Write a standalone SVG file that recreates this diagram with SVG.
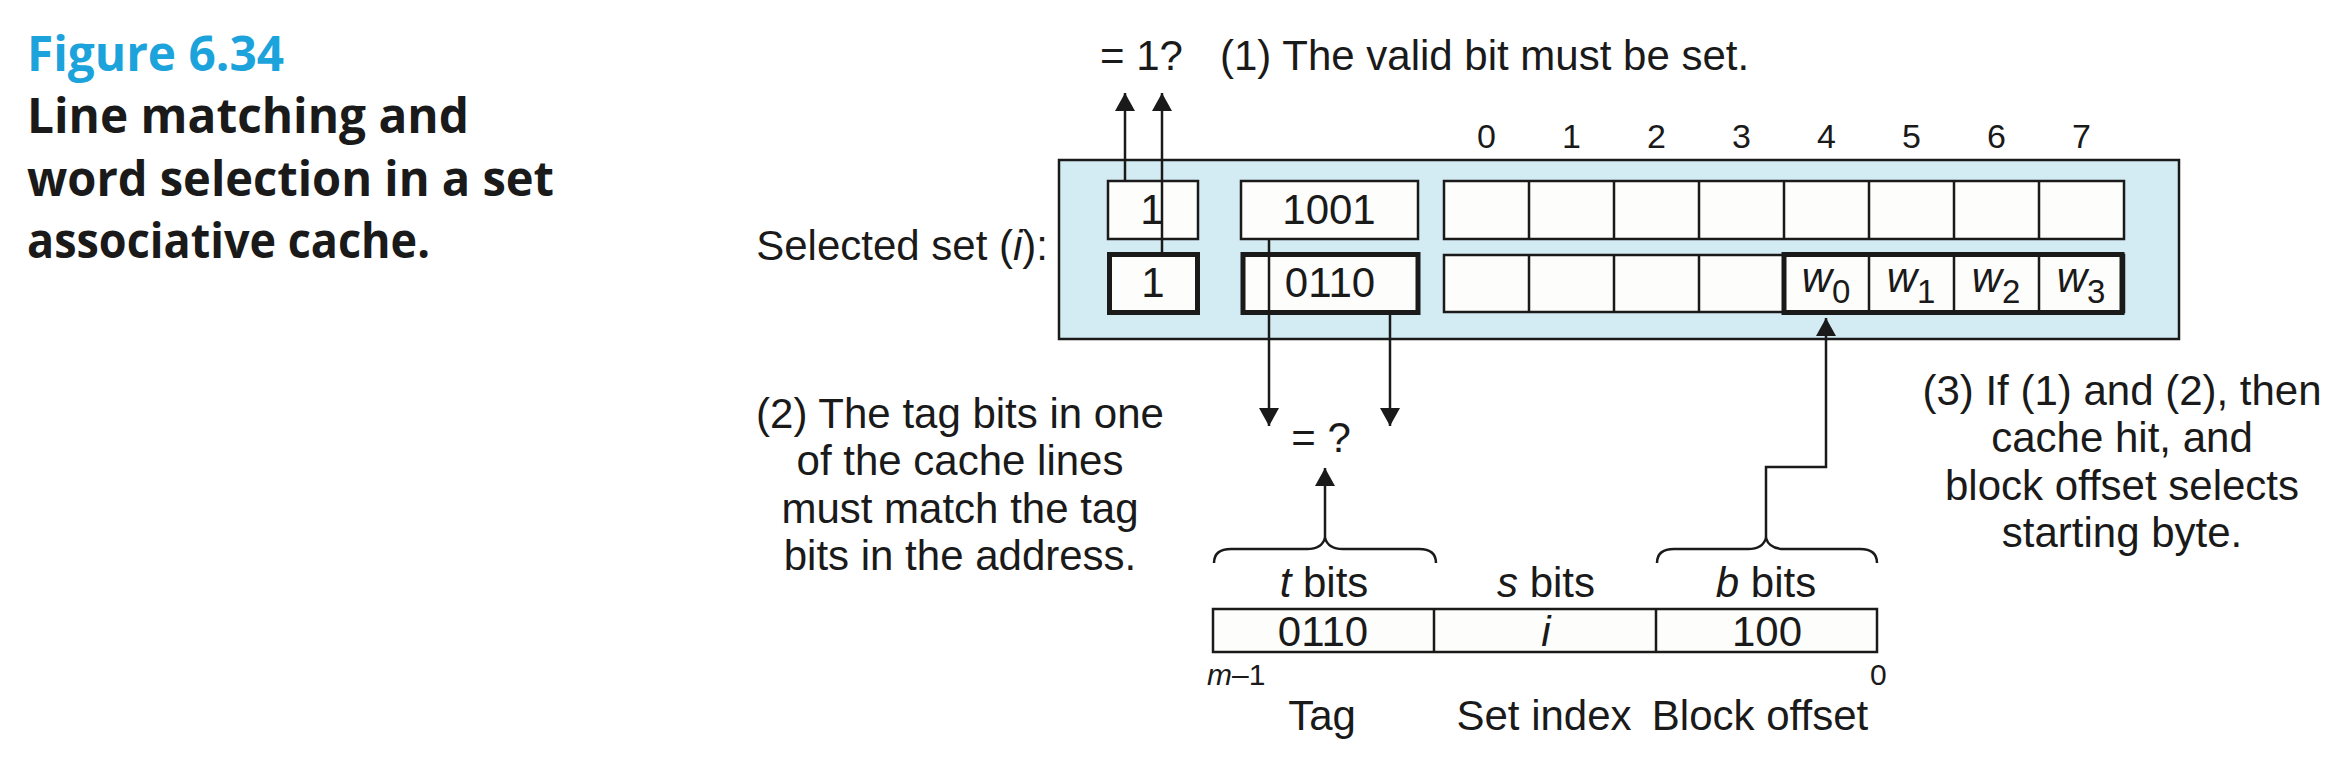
<svg xmlns="http://www.w3.org/2000/svg" width="2348" height="766" viewBox="0 0 2348 766">
<style>
.t{font-family:"Liberation Sans",Arial,Helvetica,sans-serif;font-size:42px;fill:#1a1a1a}
.m{text-anchor:middle}
.e{text-anchor:end}
.i{font-style:italic}
.sm{font-size:34px}
.xs{font-size:30px}
.cap{font-family:"Open Sans","Noto Sans",sans-serif;font-weight:700;font-size:48px;fill:#1a1a1a}
.fig{fill:#1ca3dc}
.box{fill:#fdfdfb;stroke:#1a1a1a;stroke-width:2.5}
.thick{fill:none;stroke:#1a1a1a;stroke-width:5}
.ln{fill:none;stroke:#1a1a1a;stroke-width:2.5}
.set{fill:#d3ebf2;stroke:#1a1a1a;stroke-width:2.5}
</style>
<defs>
<marker id="ah" viewBox="0 0 18 20" refX="18" refY="10" markerWidth="18" markerHeight="20" orient="auto" markerUnits="userSpaceOnUse">
<path d="M0,0 L18,10 L0,20 z" fill="#1a1a1a"/>
</marker>
</defs>
<rect width="2348" height="766" fill="#ffffff"/>

<g id="caption">
<text class="cap fig" x="27" y="71" textLength="257" lengthAdjust="spacingAndGlyphs">Figure 6.34</text>
<text class="cap" x="27" y="133" textLength="442" lengthAdjust="spacingAndGlyphs">Line matching and</text>
<text class="cap" x="27" y="196" textLength="527" lengthAdjust="spacingAndGlyphs">word selection in a set</text>
<text class="cap" x="27" y="258" textLength="403" lengthAdjust="spacingAndGlyphs">associative cache.</text>
</g>

<g id="valid-note">
<text class="t" x="1100" y="70">= 1?</text>
<text class="t" x="1220" y="70">(1) The valid bit must be set.</text>
</g>

<g id="col-labels">
<text class="t sm m" x="1486.5" y="148">0</text>
<text class="t sm m" x="1571.5" y="148">1</text>
<text class="t sm m" x="1656.5" y="148">2</text>
<text class="t sm m" x="1741.5" y="148">3</text>
<text class="t sm m" x="1826.5" y="148">4</text>
<text class="t sm m" x="1911.5" y="148">5</text>
<text class="t sm m" x="1996.5" y="148">6</text>
<text class="t sm m" x="2081.5" y="148">7</text>
</g>

<g id="selected-set">
<text class="t e" x="1048" y="260">Selected set (<tspan class="i">i</tspan>):</text>
<rect class="set" x="1059" y="160" width="1120" height="179"/>
</g>

<g id="line1">
<rect class="box" x="1108" y="181" width="90" height="58"/>
<text class="t m" x="1152" y="224">1</text>
<rect class="box" x="1241" y="181" width="177" height="58"/>
<text class="t m" x="1329" y="224">1001</text>
<rect class="box" x="1444" y="181" width="680" height="58"/>
<path class="ln" d="M1529,181V239M1614,181V239M1699,181V239M1784,181V239M1869,181V239M1954,181V239M2039,181V239"/>
</g>

<g id="line2">
<rect class="box" x="1109.5" y="254.5" width="88" height="58" style="stroke-width:5"/>
<text class="t m" x="1153" y="297">1</text>
<rect class="box" x="1243" y="254.5" width="175" height="58" style="stroke-width:5"/>
<text class="t m" x="1330" y="297">0110</text>
<rect class="box" x="1444" y="255" width="680" height="57"/>
<path class="ln" d="M1529,255V312M1614,255V312M1699,255V312M1869,255V312M1954,255V312M2039,255V312"/>
<rect class="thick" x="1784" y="254.5" width="338" height="58"/>
<text class="t m" x="1826" y="292"><tspan class="i">w</tspan><tspan font-size="33" dy="11">0</tspan></text>
<text class="t m" x="1911" y="292"><tspan class="i">w</tspan><tspan font-size="33" dy="11">1</tspan></text>
<text class="t m" x="1996" y="292"><tspan class="i">w</tspan><tspan font-size="33" dy="11">2</tspan></text>
<text class="t m" x="2081" y="292"><tspan class="i">w</tspan><tspan font-size="33" dy="11">3</tspan></text>
</g>

<g id="connectors">
<line class="ln" x1="1125" y1="181" x2="1125" y2="93" marker-end="url(#ah)"/>
<line class="ln" x1="1162" y1="254" x2="1162" y2="93" marker-end="url(#ah)"/>
<line class="ln" x1="1269" y1="239" x2="1269" y2="426" marker-end="url(#ah)"/>
<line class="ln" x1="1390" y1="313" x2="1390" y2="426" marker-end="url(#ah)"/>
<line class="ln" x1="1325" y1="539" x2="1325" y2="468" marker-end="url(#ah)"/>
<path class="ln" d="M1766,538V467H1826V318" marker-end="url(#ah)"/>
</g>

<g id="tag-compare">
<text class="t m" x="1321" y="452">= ?</text>
</g>

<g id="note2">
<text class="t m" x="960" y="428">(2) The tag bits in one</text>
<text class="t m" x="960" y="475">of the cache lines</text>
<text class="t m" x="960" y="523">must match the tag</text>
<text class="t m" x="960" y="570">bits in the address.</text>
</g>

<g id="note3">
<text class="t m" x="2122" y="405">(3) If (1) and (2), then</text>
<text class="t m" x="2122" y="452">cache hit, and</text>
<text class="t m" x="2122" y="500">block offset selects</text>
<text class="t m" x="2122" y="547">starting byte.</text>
</g>

<g id="braces">
<path class="ln" d="M1214,563C1214,554 1220,549 1231,549L1307,549C1318,549 1323,545 1325,538C1327,545 1332,549 1343,549L1419,549C1430,549 1436,554 1436,563"/>
<path class="ln" d="M1657,563C1657,554 1663,549 1674,549L1748,549C1759,549 1764,545 1766,538C1768,545 1773,549 1784,549L1860,549C1871,549 1877,554 1877,563"/>
</g>

<g id="address">
<text class="t m" x="1324" y="597"><tspan class="i">t</tspan> bits</text>
<text class="t m" x="1546" y="597"><tspan class="i">s</tspan> bits</text>
<text class="t m" x="1766" y="597"><tspan class="i">b</tspan> bits</text>
<rect class="box" x="1213" y="609" width="664" height="43"/>
<path class="ln" d="M1434,609V652M1656,609V652"/>
<text class="t m" x="1323" y="646">0110</text>
<text class="t m i" x="1546" y="646">i</text>
<text class="t m" x="1767" y="646">100</text>
<text class="t xs" x="1207" y="685"><tspan class="i">m</tspan>–1</text>
<text class="t xs" x="1870" y="685">0</text>
<text class="t m" x="1322" y="730">Tag</text>
<text class="t m" x="1544" y="730">Set index</text>
<text class="t m" x="1760" y="730">Block offset</text>
</g>
</svg>
